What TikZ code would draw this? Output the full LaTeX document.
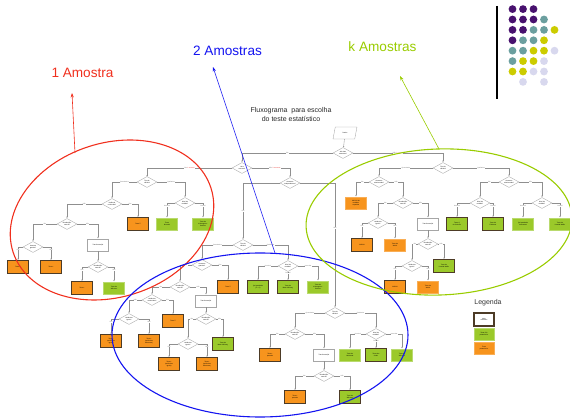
\documentclass[tikz,border=0pt]{standalone}
\usepackage{fontspec}
\setmainfont{Liberation Sans}
\usetikzlibrary{shapes.geometric,arrows.meta}

\definecolor{orangeF}{HTML}{F7941D}
\definecolor{orangeD}{HTML}{F9AE55}
\definecolor{greenF}{HTML}{9BC92A}
\definecolor{greenD}{HTML}{B9DA6E}
\definecolor{keyB}{HTML}{4D3B26}
\definecolor{lineG}{HTML}{8F8F8F}
\definecolor{boxG}{HTML}{A6A6A6}
\definecolor{lblG}{HTML}{6E6E6E}
\definecolor{lblR}{HTML}{E8302A}
\definecolor{lblP}{HTML}{F07878}
\definecolor{ovRed}{HTML}{F0301E}
\definecolor{ovBlue}{HTML}{1414F0}
\definecolor{ovGreen}{HTML}{99CC00}
\definecolor{dotP}{HTML}{48116E}
\definecolor{dotT}{HTML}{6B9F9F}
\definecolor{dotY}{HTML}{CCCC00}
\definecolor{dotL}{HTML}{D8D8EE}

\newcommand\nodefont{\fontsize{1.6}{1.8}\selectfont}

\tikzset{
  dec/.style={diamond, aspect=2, draw=boxG, fill=white, line width=0.35pt,
    inner sep=0pt, minimum width=20pt, minimum height=11pt,
    font=\nodefont, align=center},
  tst/.style={rectangle, minimum width=21pt, minimum height=12.5pt,
    inner sep=0.5pt, font=\nodefont, align=center},
  par/.style={tst, fill=orangeF, draw=orangeD, line width=0.3pt},
  npar/.style={tst, fill=greenF, draw=greenD, line width=0.3pt},
  wbox/.style={tst, fill=white, draw=boxG, line width=0.35pt},
  key/.style={draw=keyB, line width=1.1pt},
  link/.style={draw=lineG, line width=0.35pt, -{Latex[length=1.6pt,width=1.3pt]}},
  lbl/.style={font=\nodefont, text=lblG, fill=white, inner sep=0.2pt},
  ring/.style={line width=1.1pt},
  pointer/.style={line width=0.6pt, -{Stealth[length=4.5pt,width=3.2pt]}},
  group/.style={font=\fontsize{13.6}{15}\selectfont},
  dot/.style={circle, inner sep=0pt, minimum size=7.8pt}
}

\begin{document}
\begin{tikzpicture}[x=1pt, y=-1pt]
\useasboundingbox (0,0) rectangle (570,419);

% ---------- title ----------
\node[align=center, font=\fontsize{7}{9}\selectfont, text=black!85] (title) at (291,114.5)
  {Fluxograma\ \ para escolha\\do teste estatístico};

% ---------- root ----------
\node[trapezium, trapezium left angle=65, trapezium right angle=115,
  trapezium stretches=true, draw=boxG, fill=white, line width=0.35pt,
  inner sep=0pt, minimum width=24pt, minimum height=12pt,
  font=\nodefont] (dados) at (345,133) {Dados};
\node[dec] (d0) at (343,153) {Até duas\\amostras?};
\node[dec] (d1) at (242,168) {Uma\\amostra?};
\node[dec] (d2) at (290,183) {Amostras\\independentes?};

\draw[link] (dados) -- (d0);
\draw[link] (d0.west) -| node[lbl,pos=0.25]{Sim} (d1.north);
\draw[link] (d1.west) -| node[lbl,pos=0.25]{Sim \textcolor{lblR}{1 amostra}} (147,177);
\draw[link] (d1.east) -| node[lbl,pos=0.3]{Não \textcolor{lblR}{2 amostras}} (d2.north);

% ---------- one sample ----------
\node[dec] (l1) at (147,182) {Tipo de\\variável};
\node[dec] (l2) at (112,204) {Variância\\conhecida?};
\node[dec] (l3) at (185,203) {Nível de\\medida?};
\node[dec] (l4) at (67,224) {Distribuição\\normal?};
\node[par,key] (o1) at (138,224) {Teste Z};
\node[npar] (g1) at (167,224) {Teste\\binomial};
\node[npar] (g2) at (203,224) {Teste de\\Kolmogorov-\\Smirnov};
\node[dec] (l5) at (33,247) {Amostra\\grande?};
\node[wbox] (w1) at (98,245) {Transformação};
\node[par,key] (o2) at (18,267) {Teste Z};
\node[par,key] (o3) at (51,267) {Teste t};
\node[dec] (l6) at (98,267) {Distribuição\\normal?};
\node[par,key] (o4) at (82,288) {Teste t};
\node[npar] (g3) at (114,288) {Teste de\\Wilcoxon};

\draw[link] (l1.west) -| node[lbl,pos=0.25]{Quantitativa} (l2.north);
\draw[link] (l1.east) -| node[lbl,pos=0.25]{Qualitativa} (l3.north);
\draw[link] (l2.west) -| node[lbl,pos=0.25]{Não} (l4.north);
\draw[link] (l2.east) -| node[lbl,pos=0.25]{Sim} (o1.north);
\draw[link] (l3.west) -| node[lbl,pos=0.6]{Nominal} (g1.north);
\draw[link] (l3.east) -| node[lbl,pos=0.6]{Ordinal} (g2.north);
\draw[link] (l4.west) -| node[lbl,pos=0.25]{Sim} (l5.north);
\draw[link] (l4.east) -| node[lbl,pos=0.25]{Não} (w1.north);
\draw[link] (l5.west) -| node[lbl,pos=0.6]{Sim} (o2.north);
\draw[link] (l5.east) -| node[lbl,pos=0.6]{Não} (o3.north);
\draw[link] (w1) -- (l6);
\draw[link] (l6.west) -| node[lbl,pos=0.6]{Sim} (o4.north);
\draw[link] (l6.east) -| node[lbl,pos=0.6]{Não} (g3.north);

% ---------- two samples: independent ----------
\node[dec] (d3) at (243,245) {Tipo de\\variável};
\node[dec] (a1) at (202,265) {Amostras\\grandes?};
\node[dec] (a2) at (288,266) {Nível de\\medida?};
\node[dec] (a3) at (180,287) {Distribuição\\normal?};
\node[par,key] (o5) at (228,287) {Teste Z};
\node[npar,key] (g4) at (258,287) {Qui-quadrado\\(2 × 2)};
\node[npar,key] (g5) at (288,287) {Teste de\\Mann-Whitney};
\node[npar] (g6) at (318,287) {Teste de\\Kolmogorov-\\Smirnov};
\node[dec] (a5) at (152,300) {Variâncias\\conhecidas?};
\node[wbox] (w2) at (206,301) {Transformação};
\node[dec] (a6) at (129,319) {Variâncias\\iguais?};
\node[par,key] (o6) at (173,321) {Teste Z};
\node[dec] (a7) at (206,319) {Distribuição\\normal?};
\node[par,key] (o7) at (111,341) {Teste t\\(variâncias\\iguais)};
\node[par,key] (o8) at (149,341) {Teste t\\(variâncias\\diferentes)};
\node[dec] (a8) at (188,344) {Variâncias\\iguais?};
\node[npar,key] (g7) at (223,344) {Teste de\\Mann-Whitney};
\node[par,key] (o9) at (169,364) {Teste t\\(variâncias\\iguais)};
\node[par,key] (o10) at (207,364) {Teste t\\(variâncias\\diferentes)};

\draw[link] (d2.west) -| node[lbl,pos=0.75]{Sim} (d3.north);
\draw[link] (d3.west) -| node[lbl,pos=0.25]{Quantitativa} (a1.north);
\draw[link] (d3.east) -| node[lbl,pos=0.25]{Qualitativa} (a2.north);
\draw[link] (a1.west) -| node[lbl,pos=0.25]{Não} (a3.north);
\draw[link] (a1.east) -| node[lbl,pos=0.25]{Sim} (o5.north);
\draw[link] (a2.west) -| node[lbl,pos=0.25]{Nominal} (g4.north);
\draw[link] (a2.south) -- node[lbl,pos=0.2]{Ordinal} (g5.north);
\draw[link] (a2.east) -| node[lbl,pos=0.25]{Intervalar} (g6.north);
\draw[link] (a3.west) -| node[lbl,pos=0.25]{Sim} (a5.north);
\draw[link] (a3.east) -| node[lbl,pos=0.25]{Não} (w2.north);
\draw[link] (a5.west) -| node[lbl,pos=0.25]{Não} (a6.north);
\draw[link] (a5.east) -| node[lbl,pos=0.25]{Sim} (o6.north);
\draw[link] (a6.west) -| node[lbl,pos=0.6]{Sim} (o7.north);
\draw[link] (a6.east) -| node[lbl,pos=0.6]{Não} (o8.north);
\draw[link] (w2) -- (a7);
\draw[link] (a7.west) -| node[lbl,pos=0.25]{Sim} (a8.north);
\draw[link] (a7.east) -| node[lbl,pos=0.25]{Não} (g7.north);
\draw[link] (a8.west) -| node[lbl,pos=0.6]{Sim} (o9.north);
\draw[link] (a8.east) -| node[lbl,pos=0.6]{Não} (o10.north);

% ---------- two samples: paired ----------
\node[dec] (d4) at (335,313) {Tipo de\\variável};
\node[dec] (b1) at (295,334) {Distribuição\\normal?};
\node[dec] (b2) at (376,334) {Nível de\\medida?};
\node[par,key] (o11) at (270,355) {Teste t\\pareado};
\node[wbox] (w3) at (324,355) {Transformação};
\node[npar] (g8) at (350,355) {Teste de\\McNemar};
\node[npar,key] (g9) at (376,355) {Teste dos\\sinais};
\node[npar] (g10) at (402,355) {Teste de\\Wilcoxon};
\node[dec] (b3) at (324,376) {Distribuição\\normal?};
\node[par,key] (o12) at (295,397) {Teste t\\pareado};
\node[npar,key] (g11) at (350,397) {Teste de\\Wilcoxon};

\draw[link] (d2.east) -| node[lbl,pos=0.68]{Não} (d4.north);
\draw[link] (d4.west) -| node[lbl,pos=0.25]{Quantitativa} (b1.north);
\draw[link] (d4.east) -| node[lbl,pos=0.25]{Qualitativa} (b2.north);
\draw[link] (b1.west) -| node[lbl,pos=0.25]{Sim} (o11.north);
\draw[link] (b1.east) -| node[lbl,pos=0.25]{Não} (w3.north);
\draw[link] (b2.west) -| node[lbl,pos=0.25]{Nominal} (g8.north);
\draw[link] (b2.south) -- node[lbl,pos=0.2]{Ordinal} (g9.north);
\draw[link] (b2.east) -| node[lbl,pos=0.25]{Intervalar} (g10.north);
\draw[link] (w3) -- (b3);
\draw[link] (b3.west) -| node[lbl,pos=0.25]{Sim} (o12.north);
\draw[link] (b3.east) -| node[lbl,pos=0.25]{Não} (g11.north);

% ---------- k samples ----------
\node[dec] (k0) at (443,168) {Tipo de\\variável};
\node[dec] (k1) at (379,182) {Amostras\\relacionadas?};
\node[dec] (k2) at (509,182) {Amostras\\relacionadas?};
\node[par] (o13) at (356,203) {ANOVA de\\medidas\\repetidas};
\node[dec] (k3) at (403,203) {Distribuição\\normal?};
\node[dec] (k4) at (378,223) {Variâncias\\iguais?};
\node[wbox] (w4) at (428,224) {Transformação};
\node[par,key] (o14) at (362,245) {ANOVA};
\node[par] (o15) at (395,245) {Teste de\\Welch};
\node[dec] (k5) at (428,244) {Distribuição\\normal?};
\node[dec] (k6) at (412,266) {Variâncias\\iguais?};
\node[npar,key] (g12) at (444,266) {Teste de\\Kruskal-Wallis};
\node[par,key] (o16) at (395,287) {ANOVA};
\node[par] (o17) at (428,287) {Teste de\\Welch};
\node[dec] (k7) at (480,203) {Nível de\\medida?};
\node[dec] (k8) at (542,203) {Nível de\\medida?};
\node[npar,key] (g13) at (457,224) {Teste Q\\de Cochran};
\node[npar,key] (g14) at (493,224) {Teste de\\Friedman};
\node[npar] (g15) at (523,224) {Qui-quadrado\\k amostras};
\node[npar] (g16) at (560,224) {Teste de\\Kruskal-Wallis};

\draw[link] (d0.east) -| node[lbl,pos=0.25]{Não \textcolor{lblP}{3 ou mais}} (k0.north);
\draw[link] (k0.west) -| node[lbl,pos=0.25]{Quantitativa} (k1.north);
\draw[link] (k0.east) -| node[lbl,pos=0.25]{Qualitativa} (k2.north);
\draw[link] (k1.west) -| node[lbl,pos=0.25]{Sim} (o13.north);
\draw[link] (k1.east) -| node[lbl,pos=0.25]{Não} (k3.north);
\draw[link] (k3.west) -| node[lbl,pos=0.25]{Sim} (k4.north);
\draw[link] (k3.east) -| node[lbl,pos=0.25]{Não} (w4.north);
\draw[link] (k4.west) -| node[lbl,pos=0.6]{Sim} (o14.north);
\draw[link] (k4.east) -| node[lbl,pos=0.6]{Não} (o15.north);
\draw[link] (w4) -- (k5);
\draw[link] (k5.west) -| node[lbl,pos=0.25]{Sim} (k6.north);
\draw[link] (k5.east) -| node[lbl,pos=0.25]{Não} (g12.north);
\draw[link] (k6.west) -| node[lbl,pos=0.6]{Sim} (o16.north);
\draw[link] (k6.east) -| node[lbl,pos=0.6]{Não} (o17.north);
\draw[link] (k2.west) -| node[lbl,pos=0.25]{Sim} (k7.north);
\draw[link] (k2.east) -| node[lbl,pos=0.25]{Não} (k8.north);
\draw[link] (k7.west) -| node[lbl,pos=0.6]{Nominal} (g13.north);
\draw[link] (k7.east) -| node[lbl,pos=0.6]{Ordinal} (g14.north);
\draw[link] (k8.west) -| node[lbl,pos=0.6]{Nominal} (g15.north);
\draw[link] (k8.east) -| node[lbl,pos=0.6]{Ordinal} (g16.north);

% ---------- legend ----------
\node[font=\fontsize{7}{8}\selectfont, text=black!80] (leg) at (488,303) {Legenda};
\node[wbox,key, minimum width=20pt, minimum height=13pt] (lg1) at (484,319.5) {Mais\\utilizados};
\node[npar, minimum width=20pt, minimum height=12pt] (lg2) at (484,334) {Teste não\\paramétrico};
\node[par, minimum width=20pt, minimum height=12pt] (lg3) at (484,348) {Teste\\paramétrico};

% ---------- groupings ----------
\draw[ovRed, ring, rotate around={18:(112,220)}] (112,220) ellipse [x radius=104, y radius=77];
\draw[ovBlue, ring] (260,335) ellipse [x radius=148, y radius=82];
\draw[ovGreen, ring, rotate around={2:(439,222)}] (439,222) ellipse [x radius=133, y radius=73];

\node[group, text=ovRed] (g1t) at (82.5,73) {1 Amostra};
\node[group, text=ovBlue] (g2t) at (227.5,51) {2 Amostras};
\node[group, text=ovGreen] (gkt) at (382.5,47) {k Amostras};

\coordinate (r0) at (75,153);  \coordinate (r1) at (72,93);
\coordinate (b0) at (275,253); \coordinate (b1t) at (213,67);
\coordinate (k0b) at (439,149); \coordinate (k1t) at (400,76);
\draw[ovRed, pointer] (r0) -- (r1);
\draw[ovBlue, pointer] (b0) -- (b1t);
\draw[ovGreen, pointer] (k0b) -- (k1t);

% ---------- corner ornament ----------
\draw[black, line width=1.3pt] (497,6) -- (497,99);
\foreach \c/\r/\col in {
  1/1/dotP, 2/1/dotP, 3/1/dotP,
  1/2/dotP, 2/2/dotP, 3/2/dotP, 4/2/dotT,
  1/3/dotP, 2/3/dotP, 3/3/dotT, 4/3/dotT, 5/3/dotY,
  1/4/dotP, 2/4/dotT, 3/4/dotT, 4/4/dotY,
  1/5/dotT, 2/5/dotT, 3/5/dotY, 4/5/dotY, 5/5/dotL,
  1/6/dotT, 2/6/dotY, 3/6/dotY, 4/6/dotL,
  1/7/dotY, 2/7/dotY, 3/7/dotL, 4/7/dotL,
  2/8/dotL, 4/8/dotL}
  \node[dot, fill=\col] at ({502+10.5*\c},{-1.3+10.4*\r}) {};
\end{tikzpicture}
\end{document}
